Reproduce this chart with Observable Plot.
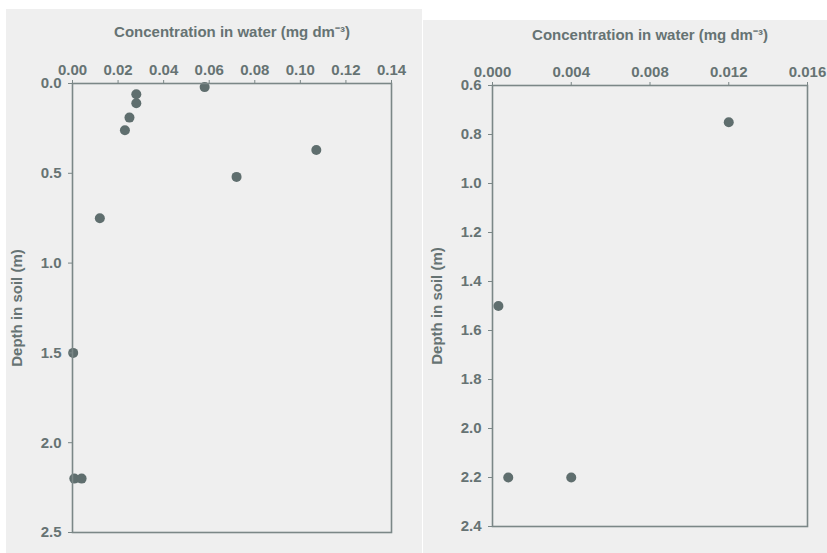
<!DOCTYPE html>
<html>
<head>
<meta charset="utf-8">
<script src="https://cdn.jsdelivr.net/npm/d3@7"></script>
<script src="https://cdn.jsdelivr.net/npm/@observablehq/plot@0.6"></script>
<style>
  html, body { margin: 0; padding: 0; background: #ffffff; }
  #root { position: relative; width: 827px; height: 553px; overflow: hidden; background: #ffffff; }
  .panel { position: absolute; background: #efefef; }
  .panel svg { display: block; }
</style>
</head>
<body>
<div id="root">
  <div id="left" class="panel" style="left:6px; top:9px; width:416px; height:544px;"></div>
  <div id="right" class="panel" style="left:423px; top:20px; width:404px; height:533px;"></div>
</div>
<script>
// ---- Data ----
const leftConc  = [0.058, 0.028, 0.028, 0.025, 0.023, 0.107, 0.072, 0.012, 0.0003, 0.0008, 0.004];
const leftDepth = [0.02, 0.06, 0.11, 0.19, 0.26, 0.37, 0.52, 0.75, 1.5, 2.2, 2.2];

const rightConc  = [0.012, 0.0003, 0.0008, 0.004];
const rightDepth = [0.75, 1.5, 2.2, 2.2];

const leftXTicks  = [0, 0.02, 0.04, 0.06, 0.08, 0.10, 0.12, 0.14];
const leftYTicks  = [0, 0.5, 1.0, 1.5, 2.0, 2.5];
const rightXTicks = [0, 0.004, 0.008, 0.012, 0.016];
const rightYTicks = [0.6, 0.8, 1.0, 1.2, 1.4, 1.6, 1.8, 2.0, 2.2, 2.4];

const xTitle = "Concentration in water (mg dm\u207B\u00B3)";
const yTitle = "Depth in soil (m)";

const textColor = "#667373";
const dotColor = "#5f6e6e";
const lineColor = "#7b8787";

function panel(opts) {
  const data = opts.conc.map((c, i) => ({conc: c, depth: opts.depth[i]}));
  return Plot.plot({
    width: opts.width,
    height: opts.height,
    marginLeft: opts.mL,
    marginRight: opts.mR,
    marginTop: opts.mT,
    marginBottom: opts.mB,
    style: {
      background: "#efefef",
      color: textColor,
      fontFamily: "'Liberation Sans', Arial, sans-serif",
      fontSize: "15px",
      fontWeight: "bold"
    },
    x: {domain: opts.xDomain},
    y: {domain: opts.yDomain, reverse: true},
    marks: [
      Plot.dot(data, {x: "conc", y: "depth", r: 5, fill: dotColor, stroke: "none"}),
      Plot.frame({stroke: lineColor, strokeWidth: 1.6}),
      Plot.axisX({
        anchor: "top",
        ticks: opts.xTicks,
        tickFormat: d => d.toFixed(opts.xDigits),
        tickSize: 4,
        tickPadding: 5,
        stroke: lineColor,
        label: xTitle,
        labelAnchor: "center",
        labelArrow: "none",
        labelOffset: opts.xLabelOffset
      }),
      Plot.axisY({
        anchor: "left",
        ticks: opts.yTicks,
        tickFormat: d => d.toFixed(1),
        tickSize: 4,
        tickPadding: 7,
        stroke: lineColor,
        label: yTitle,
        labelAnchor: "center",
        labelArrow: "none",
        labelOffset: opts.yLabelOffset
      })
    ]
  });
}

document.getElementById("left").appendChild(panel({
  conc: leftConc, depth: leftDepth,
  width: 416, height: 544, mL: 66, mR: 31, mT: 74, mB: 21,
  xDomain: [0, 0.14], yDomain: [0, 2.5],
  xTicks: leftXTicks, yTicks: leftYTicks, xDigits: 2,
  xLabelOffset: 57, yLabelOffset: 61
}));

document.getElementById("right").appendChild(panel({
  conc: rightConc, depth: rightDepth,
  width: 404, height: 533, mL: 69, mR: 20, mT: 65, mB: 27,
  xDomain: [0, 0.016], yDomain: [0.6, 2.4],
  xTicks: rightXTicks, yTicks: rightYTicks, xDigits: 3,
  xLabelOffset: 56, yLabelOffset: 61
}));
</script>
</body>
</html>
